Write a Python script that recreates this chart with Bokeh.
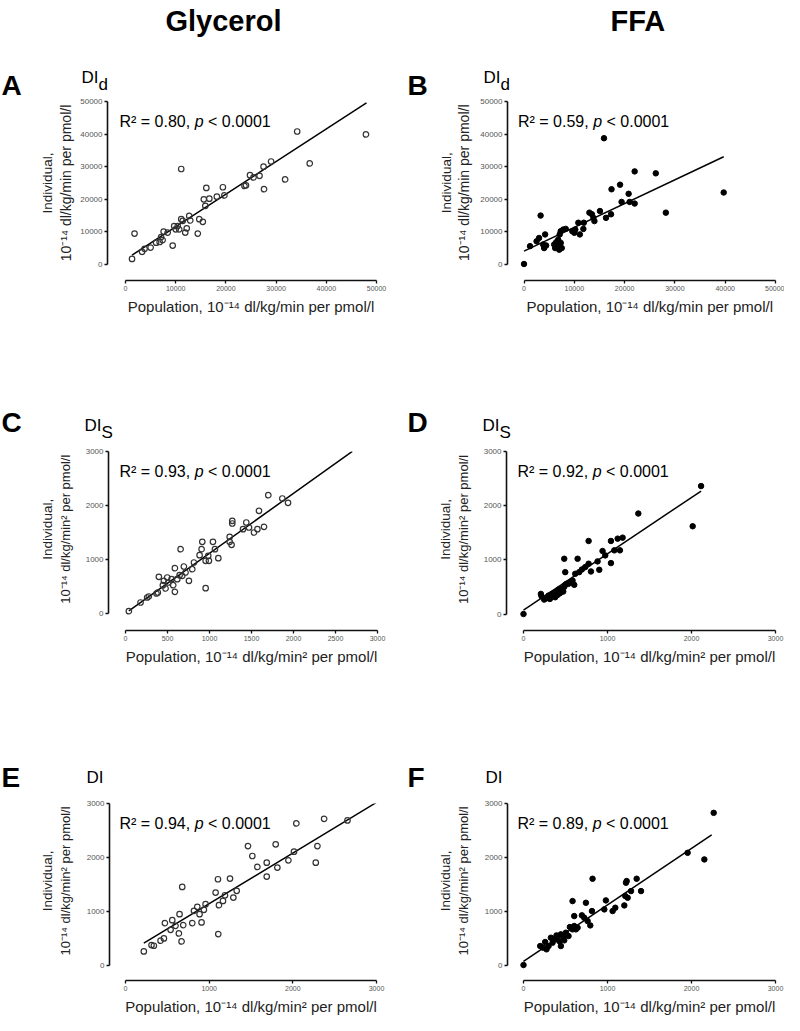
import numpy as np
from bokeh.plotting import figure
from bokeh.layouts import column, row
from bokeh.models import Label, FixedTicker, Range1d
from bokeh.embed import file_html
from bokeh.resources import INLINE

# ---------------- data ----------------
A_x = [1300, 1800, 3300, 3800, 5000, 6100, 6800, 7100, 7400, 7600, 8400, 9400, 9700, 10000, 10400,
       10700, 11100, 11100, 11400, 11900, 12200, 12700, 12900, 14400, 14700, 15400, 15600, 15900, 16100, 16700,
       18200, 19400, 19700, 23700, 24000, 24800, 25500, 26700, 27500, 27600, 29000, 31800, 34200, 36700, 47900]
A_y = [1700, 9500, 3900, 4800, 5200, 6700, 6900, 8400, 7500, 10100, 9800, 5800, 11800, 10800, 11800,
       10800, 13900, 29300, 13400, 9800, 11100, 14900, 13500, 9500, 13900, 13100, 20000, 18000, 23500, 20200,
       20800, 23700, 21200, 24100, 24300, 27400, 26700, 27200, 30000, 23100, 31600, 26100, 40800, 31000, 39900]
A_fit = {"slope": 1.0, "intercept": 1600, "x_from": 1300, "x_to": 48000}

B_x = [0, 1200, 2500, 3000, 3300, 3800, 4000, 4200, 4400, 6000, 6200, 6400, 6600, 6800, 7000,
       7100, 7300, 7500, 7300, 7800, 8300, 9600, 10000, 10200, 10800, 11100, 11800, 11900, 13000, 13500,
       13800, 14000, 15100, 15900, 16300, 17300, 17400, 19100, 19400, 20800, 21000, 22000, 22000, 26200, 28200, 39700]
B_y = [0, 5500, 7000, 8000, 14900, 6000, 4900, 9100, 5700, 6000, 4900, 6700, 5700, 7500, 4400,
       9100, 6500, 4900, 10100, 10600, 10800, 10100, 9600, 10600, 12700, 9100, 10800, 12700, 15800, 15300,
       14200, 13200, 16300, 38700, 14200, 15300, 23000, 24400, 19100, 21600, 19100, 28500, 18600, 27900, 15800, 22000]
B_fit = {"slope": 0.732, "intercept": 3950, "x_from": 0, "x_to": 39700}

C_x = [40, 179, 258, 278, 369, 397, 385, 445, 457, 477, 497, 509, 548, 568, 588, 588, 616, 644, 656, 676,
       695, 715, 755, 795, 815, 882, 906, 914, 954, 954, 985, 993, 1041, 1065, 1105, 1240, 1240, 1263, 1271, 1271,
       1399, 1438, 1470, 1530, 1570, 1589, 1649, 1700, 1867, 1935]
C_y = [43, 204, 296, 315, 370, 679, 389, 525, 605, 463, 667, 574, 636, 525, 401, 840, 636, 710, 1191, 698,
       870, 759, 605, 821, 944, 1080, 1191, 1327, 975, 469, 1068, 975, 1327, 1191, 1025, 1327, 1420, 1272, 1716, 1667,
       1562, 1685, 1593, 1500, 1562, 1901, 1605, 2191, 2130, 2049]
C_fit = {"slope": 1.11, "intercept": 5, "x_from": 40, "x_to": 2700}

D_x = [0, 207, 215, 246, 274, 298, 314, 338, 354, 377, 385, 405, 417, 433, 457, 473, 485, 497, 485, 497,
       512, 536, 564, 584, 604, 616, 644, 663, 695, 735, 775, 775, 803, 882, 902, 941, 973, 1041, 1041, 1081,
       1121, 1148, 1180, 1367, 2014, 2114]
D_y = [0, 371, 328, 266, 291, 340, 278, 371, 328, 309, 402, 352, 451, 383, 464, 414, 501, 538, 1020, 773,
       557, 557, 587, 618, 538, 742, 1020, 773, 822, 866, 928, 1348, 785, 971, 816, 1163, 1082, 1348, 940, 1175,
       1391, 1175, 1410, 1855, 1620, 2362]
D_fit = {"slope": 1.04, "intercept": 72, "x_from": 0, "x_to": 2114}

E_x = [219, 311, 339, 419, 459, 471, 539, 559, 598, 638, 646, 670, 678, 690, 798, 818, 858, 885, 909, 937,
       957, 1077, 1105, 1117, 1109, 1165, 1189, 1249, 1289, 1329, 1464, 1516, 1576, 1688, 1688, 1795, 1815, 1947,
       2014, 2042, 2274, 2294, 2374, 2653]
E_y = [253, 370, 358, 451, 494, 778, 654, 833, 728, 586, 944, 438, 1451, 741, 778, 1006, 1080, 944, 790, 1025,
       1130, 1346, 1593, 1111, 574, 1191, 1296, 1605, 1253, 1377, 2210, 2025, 1821, 1901, 1642, 2241, 1809, 1944,
       2105, 2630, 1901, 2210, 2716, 2685]
E_fit = {"slope": 0.94, "intercept": 200, "x_from": 219, "x_to": 3000}

F_x = [0, 199, 234, 258, 274, 298, 326, 346, 365, 393, 425, 445, 445, 473, 485, 504, 536, 552, 584, 584,
       604, 624, 604, 644, 695, 723, 743, 763, 795, 815, 822, 962, 981, 1061, 1093, 1200, 1212, 1220, 1228, 1240,
       1280, 1347, 1399, 1954, 2153, 2264]
F_y = [0, 352, 322, 427, 291, 352, 507, 414, 476, 550, 445, 352, 569, 526, 458, 600, 538, 705, 662, 1187,
       724, 662, 909, 693, 922, 878, 1156, 816, 736, 1002, 1602, 1033, 1200, 1002, 1064, 1107, 1280, 1528, 1559, 1249,
       1373, 1602, 1373, 2084, 1961, 2826]
F_fit = {"slope": 1.05, "intercept": 66, "x_from": 0, "x_to": 2240}

ticks_dId = [0, 10000, 20000, 30000, 40000, 50000]
ticks_C_x = [0, 500, 1000, 1500, 2000, 2500, 3000]
ticks_3000 = [0, 1000, 2000, 3000]

r2_texts = {"A": "0.80", "B": "0.59", "C": "0.93", "D": "0.92", "E": "0.94", "F": "0.89"}
p_text = "< 0.0001"
headers = {"A": "Glycerol", "B": "FFA"}
di_subs = {"A": "d", "B": "d", "C": "S", "D": "S", "E": "", "F": ""}
ylab1 = "Individual,"
ylab_d = "10\u207b\u00b9\u2074 dl/kg/min per pmol/l"
ylab_s = "10\u207b\u00b9\u2074 dl/kg/min\u00b2 per pmol/l"
xlab_d = "Population, 10\u207b\u00b9\u2074 dl/kg/min per pmol/l"
xlab_s = "Population, 10\u207b\u00b9\u2074 dl/kg/min\u00b2 per pmol/l"

FONT = "Liberation Sans"

# ---------------- layout geometry (page pixels) ----------------
# L/XM frame left/right; X0 pixel of x=0; T/B frame top/bottom; Y0 pixel of y=0
GEOM = {
    "A": dict(col=0, L=115, X0=133.0, XM=384, T=109, Y0=272.0, B=288),
    "B": dict(col=1, L=515, X0=531.5, XM=783, T=109, Y0=271.5, B=288),
    "C": dict(col=0, L=116, X0=133.0, XM=385, T=459, Y0=621.0, B=638),
    "D": dict(col=1, L=514, X0=531.0, XM=783, T=459, Y0=621.5, B=638),
    "E": dict(col=0, L=117, X0=133.0, XM=384, T=811, Y0=972.5, B=988),
    "F": dict(col=1, L=515, X0=531.0, XM=783, T=811, Y0=972.5, B=988),
}
COL_X = [(8, 400), (400, 792)]
TEXTPOS = {
    "A": dict(letter=(9, 93), di=(89, 85), header=(173, 28)),
    "B": dict(letter=(415, 93), di=(491, 85), header=(618, 28)),
    "C": dict(letter=(9, 430), di=(92, 433)),
    "D": dict(letter=(415, 430), di=(490, 433)),
    "E": dict(letter=(9, 785), di=(94, 785)),
    "F": dict(letter=(415, 785), di=(493, 785)),
}
YLAB_SIZE = {"A": 14, "B": 14, "C": 13, "D": 13, "E": 13, "F": 13}
PAD_L, PAD_T, PAD_B = 30, 5, 14   # room inside each plot figure for tick labels
PAGE_L, PAGE_T, PAGE_W, PAGE_B = 8, 8, 784, 1023

REGIONS = []   # (figure, page_left, page_top, width, height) of text-only figures


def region(x0, y0, w, h):
    s = figure(width=w, height=h, output_backend="svg", toolbar_location=None, title=None,
               x_axis_type=None, y_axis_type=None, x_range=Range1d(0, w), y_range=Range1d(h, 0),
               min_border=0, min_border_left=0, min_border_right=0, min_border_top=0, min_border_bottom=0)
    s.outline_line_color = None
    s.background_fill_color = "white"
    s.border_fill_color = "white"
    REGIONS.append((s, x0, y0, w, h))
    return s


def txt(fig, x, y, text, size, style="normal", color="black", align="left",
        baseline="alphabetic", angle=0.0, x_offset=0.0):
    fig.add_layout(Label(x=x, y=y, x_offset=x_offset, text=text, text_font=FONT, text_font_style=style,
                         text_font_size=f"{size}px", text_color=color, text_align=align,
                         text_baseline=baseline, angle=angle))


def page_txt(px, py, text, size, **kw):
    for s, x0, y0, w, h in REGIONS:
        if x0 <= px < x0 + w and y0 <= py < y0 + h:
            txt(s, px - x0, py - y0, text, size, **kw)
            return


def make_plot(key, xs, ys, fit, filled, xmax, ymax, xticks, yticks):
    g = GEOM[key]
    L, X0, XM, T, Y0, B = g["L"], g["X0"], g["XM"], g["T"], g["Y0"], g["B"]
    cl, cr = COL_X[g["col"]]

    def xd(px):
        return (px - X0) / (XM - X0) * xmax

    def yd(py):
        return (Y0 - py) / (Y0 - T) * ymax

    p = figure(width=cr - (L - PAD_L), height=PAD_T + (B - T) + PAD_B, output_backend="svg",
               toolbar_location=None, title=None,
               x_range=Range1d(xd(L), xmax), y_range=Range1d(yd(B), ymax),
               min_border_left=PAD_L, min_border_right=cr - XM,
               min_border_top=PAD_T, min_border_bottom=PAD_B)
    p.outline_line_color = None
    p.xgrid.visible = False
    p.ygrid.visible = False
    p.background_fill_color = "white"
    p.border_fill_color = "white"

    for ax, bnd, tk, fs in ((p.xaxis[0], (0, xmax), xticks, "7px"), (p.yaxis[0], (0, ymax), yticks, "8px")):
        ax.bounds = bnd
        ax.ticker = FixedTicker(ticks=tk)
        ax.axis_line_color = "#111111"
        ax.axis_line_width = 1.6
        ax.major_tick_line_color = "#111111"
        ax.major_tick_line_width = 1.3
        ax.major_tick_out = 3
        ax.major_tick_in = 0
        ax.minor_tick_out = 0
        ax.minor_tick_in = 0
        ax.major_label_text_font = FONT
        ax.major_label_text_font_size = fs
        ax.major_label_text_color = "#555555"
        ax.major_label_standoff = 2

    lx = np.array([fit["x_from"], fit["x_to"]], dtype=float)
    ly = fit["slope"] * lx + fit["intercept"]
    p.line(lx, ly, line_color="black", line_width=1.5)

    if filled:
        p.scatter(xs, ys, marker="circle", size=5.5, fill_color="black", line_color="black")
    else:
        p.scatter(xs, ys, marker="circle", size=5.5, fill_alpha=0.0, line_color="#333333", line_width=1.2)

    rfs = 16
    rx, ry = xd(X0 - 6), yd(T + 20)
    w1 = 4.697 * rfs
    txt(p, rx, ry, "R\u00b2 = " + r2_texts[key] + ",", rfs)
    txt(p, rx, ry, "p", rfs, style="italic", x_offset=w1)
    txt(p, rx, ry, p_text, rfs, x_offset=w1 + (0.556 + 0.278) * rfs)
    return p


plots = {
    "A": make_plot("A", A_x, A_y, A_fit, False, 50000, 50000, ticks_dId, ticks_dId),
    "B": make_plot("B", B_x, B_y, B_fit, True, 50000, 50000, ticks_dId, ticks_dId),
    "C": make_plot("C", C_x, C_y, C_fit, False, 3000, 3000, ticks_C_x, ticks_3000),
    "D": make_plot("D", D_x, D_y, D_fit, True, 3000, 3000, ticks_3000, ticks_3000),
    "E": make_plot("E", E_x, E_y, E_fit, False, 3000, 3000, ticks_3000, ticks_3000),
    "F": make_plot("F", F_x, F_y, F_fit, True, 3000, 3000, ticks_3000, ticks_3000),
}

# ---- assemble: first row has tall left strips (letter + y title) and a top strip above each plot ----
rows_keys = [("A", "B"), ("C", "D"), ("E", "F")]
blocks = []
prev = PAGE_T
for ri, keys in enumerate(rows_keys):
    T0 = GEOM[keys[0]]["T"]
    B0 = GEOM[keys[0]]["B"]
    if ri > 0:
        blocks.append(region(PAGE_L, prev, PAGE_W, T0 - PAD_T - prev))
        top_y = T0 - PAD_T
    else:
        top_y = PAGE_T
    items = []
    for k in keys:
        g = GEOM[k]
        cl, cr = COL_X[g["col"]]
        lw = g["L"] - PAD_L - cl
        left = region(cl, top_y, lw, B0 + PAD_B - top_y)
        if ri == 0:
            top = region(cl + lw, top_y, cr - cl - lw, T0 - PAD_T - top_y)
            # wrap the text strip in its own row so its frame is not aligned to the plot's frame
            items += [left, column(row(top, spacing=0), plots[k], spacing=0)]
        else:
            items += [left, plots[k]]
    blocks.append(row(*items, spacing=0))
    prev = B0 + PAD_B
blocks.append(region(PAGE_L, prev, PAGE_W, PAGE_B - prev))

# ---- texts placed by page position ----
for key, g in GEOM.items():
    tp = TEXTPOS[key]
    if key in headers:
        hx, hy = tp["header"]
        page_txt(hx, hy, headers[key], 29, style="bold")
    lx0, ly0 = tp["letter"]
    page_txt(lx0, ly0, key, 28, style="bold")
    dx0, dy0 = tp["di"]
    page_txt(dx0, dy0, "DI", 17)
    if di_subs[key]:
        page_txt(dx0 + 17, dy0 + 7, di_subs[key], 17)
    ymid = (g["Y0"] + g["T"]) / 2
    ylab2 = ylab_d if key in ("A", "B") else ylab_s
    page_txt(g["X0"] - 78, ymid, ylab1, 13.5, color="#222222", align="center", baseline="middle", angle=np.pi / 2)
    page_txt(g["X0"] - 60, ymid, ylab2, YLAB_SIZE[key], color="#222222", align="center", baseline="middle",
             angle=np.pi / 2)
    xlab = xlab_d if key in ("A", "B") else xlab_s
    page_txt((g["X0"] + g["XM"]) / 2, g["B"] + 26, xlab, 15, color="#222222", align="center")

layout = column(*blocks, spacing=0)

with open("out.html", "w") as f:
    f.write(file_html(layout, INLINE))
